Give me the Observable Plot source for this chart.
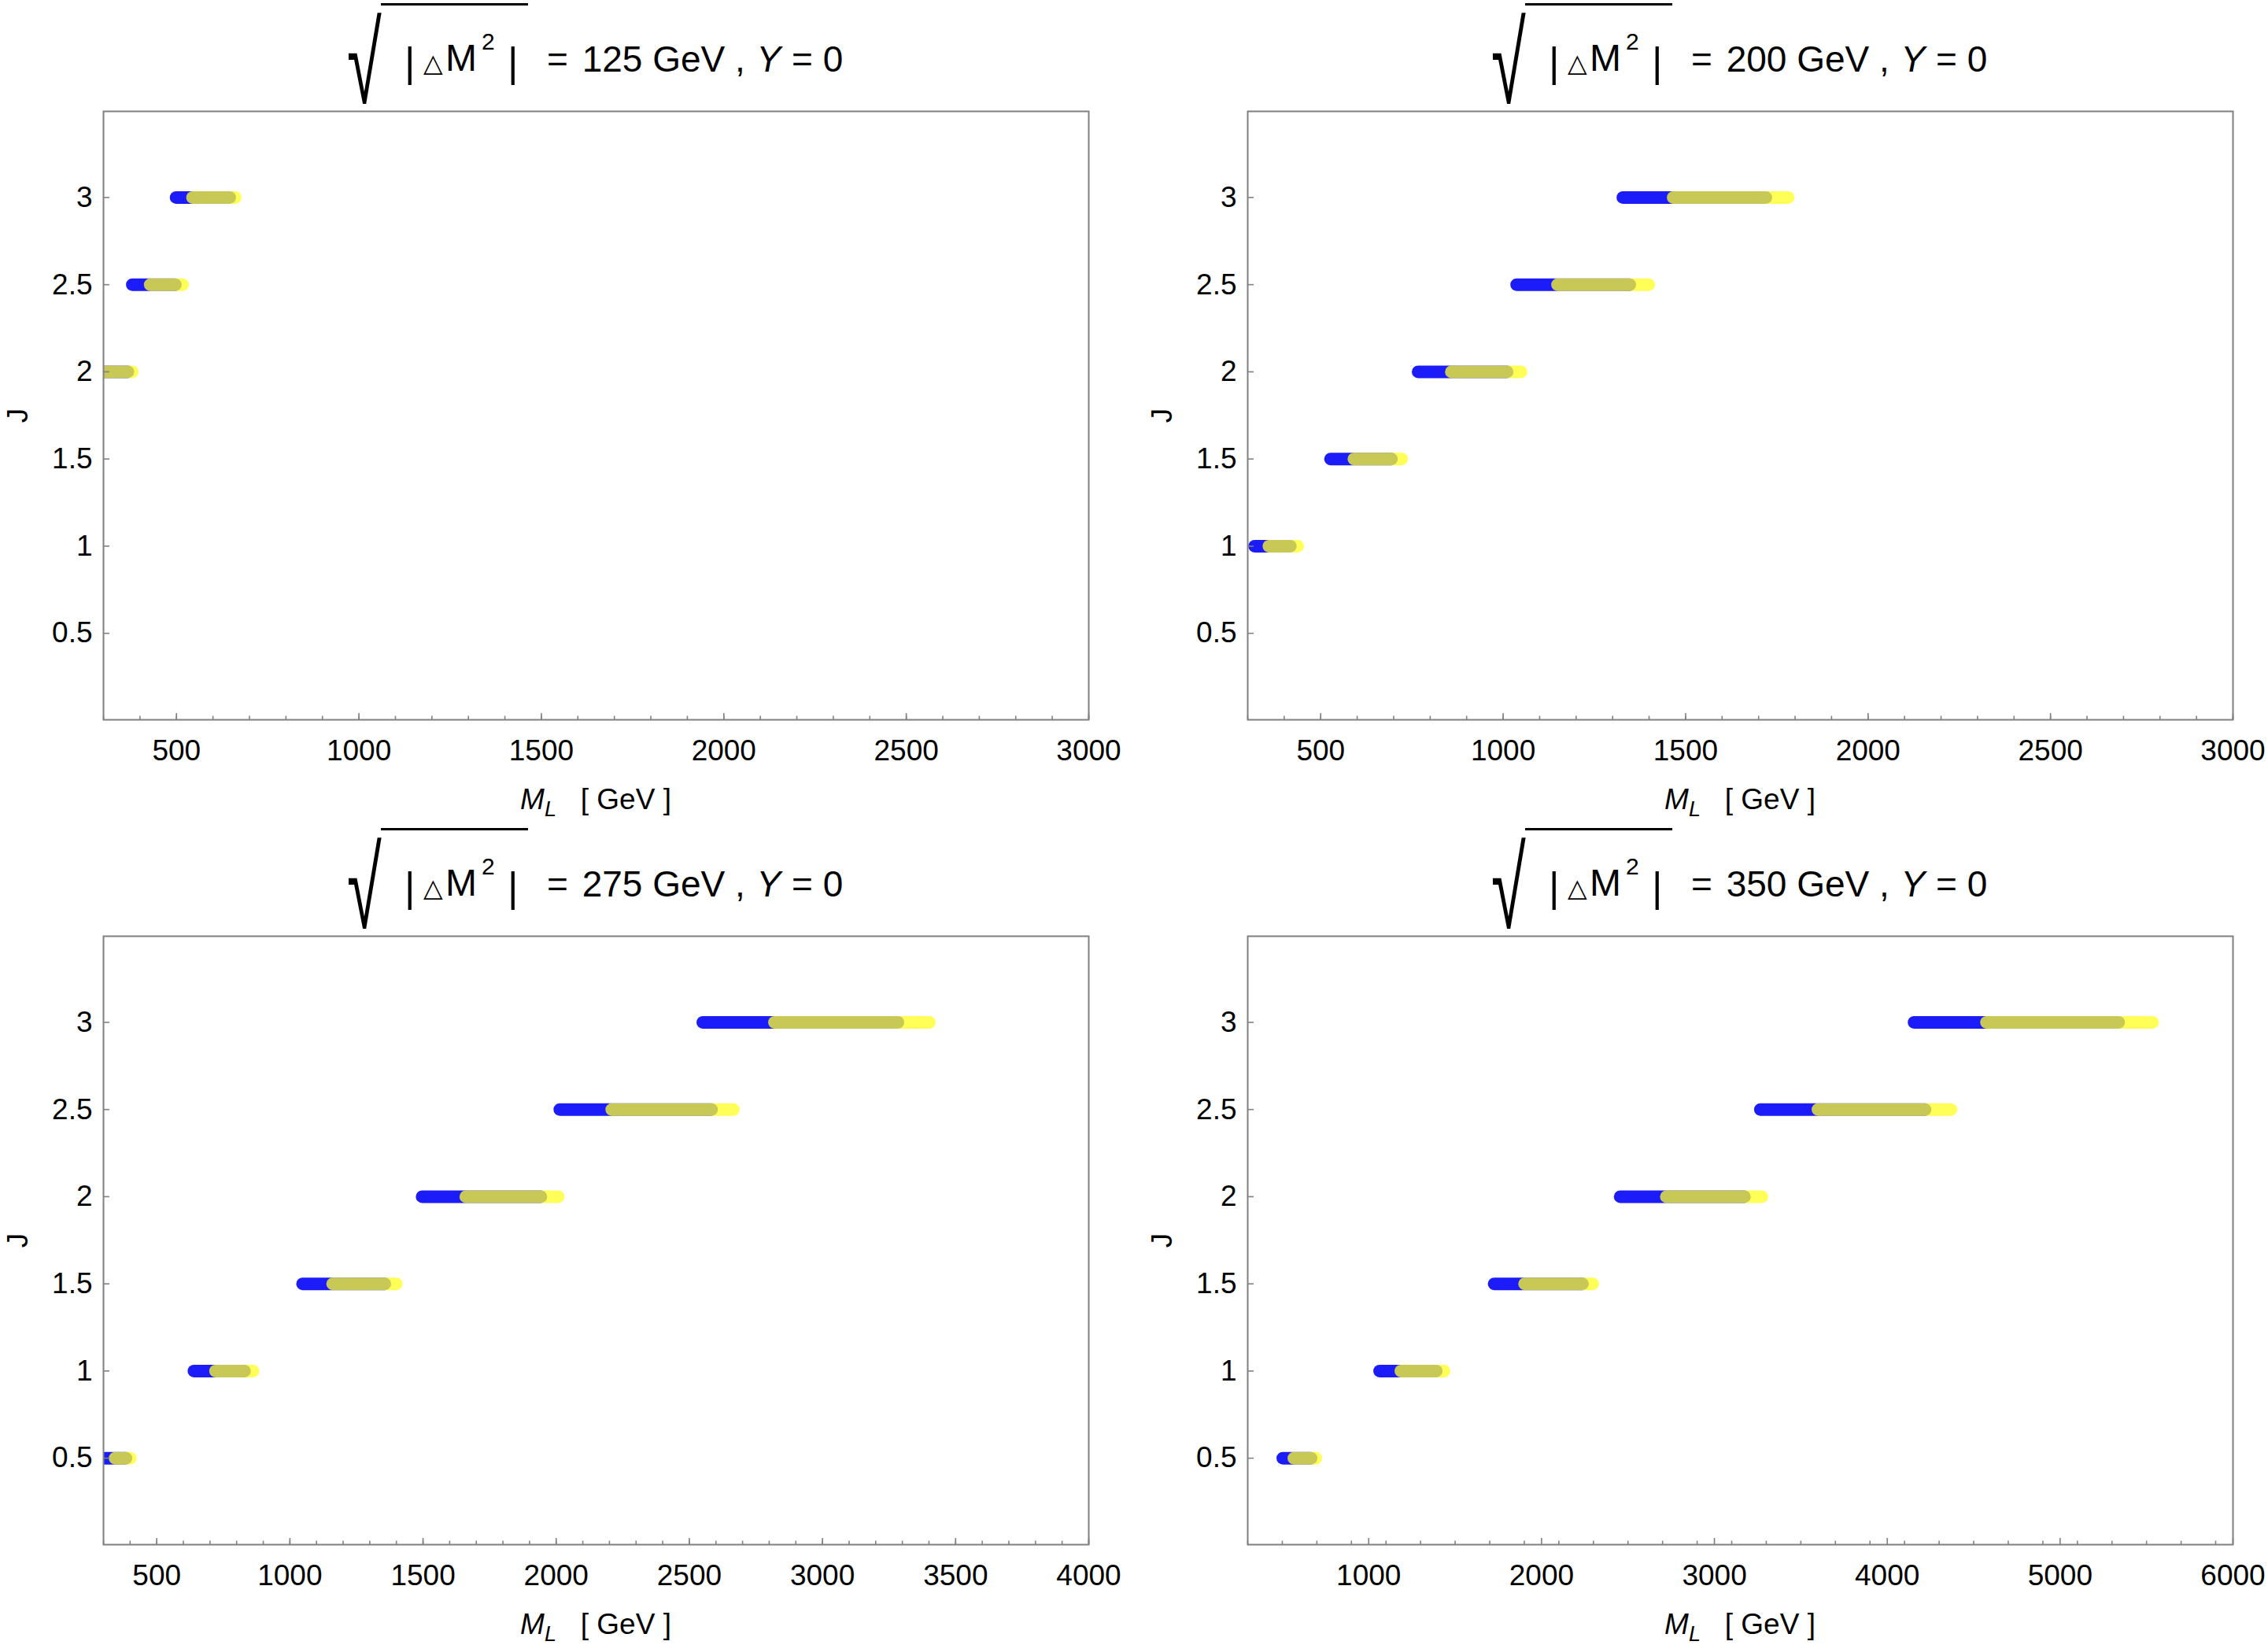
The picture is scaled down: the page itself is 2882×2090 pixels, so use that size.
<!DOCTYPE html>
<html><head><meta charset="utf-8">
<script src="https://cdn.jsdelivr.net/npm/d3@7"></script>
<script src="https://cdn.jsdelivr.net/npm/@observablehq/plot@0.6"></script>
<style>
html,body{margin:0;padding:0;background:#fff;}
#fig{position:relative;width:2882px;height:2090px;overflow:hidden;background:#fff;font-family:"Liberation Sans",Arial,sans-serif;color:#000;}
.abs{position:absolute;white-space:pre;line-height:1;}
svg{position:absolute;}
</style></head><body><div id="fig"></div>
<script>
// ---- data ----
const J_VALUES = [0.5, 1, 1.5, 2, 2.5, 3];
const deltaM = [125, 200, 275, 350];

const blueStart125  = [null, null, null, 285, 380, 500];
const blueEnd125    = [null, null, null, 368, 498, 647];
const yellowStart125= [null, null, null, 305, 429, 545];
const yellowEnd125  = [null, null, null, 380, 518, 662];

const blueStart200  = [null, 320, 528, 768, 1038, 1329];
const blueEnd200    = [null, 418, 695, 1012, 1348, 1721];
const yellowStart200= [null, 359, 592, 859, 1150, 1467];
const yellowEnd200  = [null, 438, 723, 1050, 1400, 1782];

const blueStart275  = [290, 641, 1049, 1498, 2015, 2552];
const blueEnd275    = [386, 831, 1358, 1944, 2585, 3285];
const yellowStart275= [345, 722, 1162, 1662, 2210, 2821];
const yellowEnd275  = [402, 863, 1401, 2009, 2667, 3403];

const blueStart350  = [505, 1065, 1728, 2457, 3268, 4157];
const blueEnd350    = [669, 1393, 2239, 3176, 4221, 5341];
const yellowStart350= [569, 1188, 1904, 2724, 3601, 4576];
const yellowEnd350  = [696, 1438, 2298, 3277, 4371, 5537];

const xTicks125 = [500, 1000, 1500, 2000, 2500, 3000];
const xTicks200 = [500, 1000, 1500, 2000, 2500, 3000];
const xTicks275 = [500, 1000, 1500, 2000, 2500, 3000, 3500, 4000];
const xTicks350 = [1000, 2000, 3000, 4000, 5000, 6000];
const yTicks = [0.5, 1, 1.5, 2, 2.5, 3];
const xDomains = [[300, 3000], [300, 3000], [300, 4000], [300, 6000]];
const minorSteps = [100, 100, 100, 200];

// ---- styling / layout ----
const BLUE = "rgb(28,28,250)";
const YELLOW = "#ffff22";
const GRAY = "#808080";
const FONT = "'Liberation Sans', Arial, sans-serif";
const FRAME_W = 1252, FRAME_H = 773;
const frameLeft = [131, 1585];
const frameTop = [141, 1189];
const fig = document.getElementById("fig");

function rows(js, a, b) {
  const out = [];
  js.forEach((j, i) => { if (a[i] != null && b[i] != null) out.push({J: j, x1: a[i], x2: b[i]}); });
  return out;
}

const panelData = [
  [blueStart125, blueEnd125, yellowStart125, yellowEnd125, xTicks125],
  [blueStart200, blueEnd200, yellowStart200, yellowEnd200, xTicks200],
  [blueStart275, blueEnd275, yellowStart275, yellowEnd275, xTicks275],
  [blueStart350, blueEnd350, yellowStart350, yellowEnd350, xTicks350]
];

function addText(html, left, top, style) {
  const d = document.createElement("div");
  d.className = "abs";
  d.innerHTML = html;
  d.style.left = left + "px";
  d.style.top = top + "px";
  Object.assign(d.style, style || {});
  fig.appendChild(d);
  return d;
}

panelData.forEach(([bs, be, ys, ye, ticks], p) => {
  const col = p % 2, row = Math.floor(p / 2);
  const fl = frameLeft[col], ft = frameTop[row];
  const svgLeft = col * 1441;
  const mL = fl - svgLeft, mR = 1441 - mL - FRAME_W;
  const mT = 10, mB = 60;
  const dom = xDomains[p];
  const minor = d3.range(dom[0], dom[1] + 1, minorSteps[p]);
  const chart = Plot.plot({
    width: 1441, height: mT + FRAME_H + mB,
    marginLeft: mL, marginRight: mR, marginTop: mT, marginBottom: mB,
    x: {domain: dom},
    y: {domain: [0.004, 3.494]},
    style: {fontFamily: FONT, fontSize: "37px", background: "transparent", overflow: "visible", color: "#000"},
    marks: [
      Plot.ruleY(rows(J_VALUES, bs, be), {y: "J", x1: "x1", x2: "x2", stroke: BLUE, strokeWidth: 16, strokeLinecap: "round", clip: true}),
      Plot.ruleY(rows(J_VALUES, ys, ye), {y: "J", x1: "x1", x2: "x2", stroke: YELLOW, strokeOpacity: 0.76, strokeWidth: 16, strokeLinecap: "round", clip: true}),
      Plot.frame({stroke: GRAY, strokeWidth: 2}),
      Plot.axisX({ticks: minor, tickSize: -4.5, tickFormat: () => "", stroke: GRAY, strokeWidth: 1.6, label: null}),
      Plot.axisX({ticks: ticks, tickSize: -8, tickFormat: () => "", stroke: GRAY, strokeWidth: 1.6, label: null}),
      Plot.axisX({ticks: ticks, tickSize: 0, tickPadding: 25, tickFormat: d => String(d), fontSize: 37, fill: "#000", label: null}),
      Plot.axisY({ticks: yTicks, tickSize: -8, tickFormat: () => "", stroke: GRAY, strokeWidth: 1.6, label: null}),
      Plot.axisY({ticks: yTicks, tickSize: 0, tickPadding: 14, tickFormat: d => String(d), fontSize: 37, fill: "#000", label: null})
    ]
  });
  chart.style.left = svgLeft + "px";
  chart.style.top = (ft - mT) + "px";
  fig.appendChild(chart);

  // title: sqrt(|ΔM²|) = … GeV , Y = 0
  const ox = col * 1454, oy = row * 1048;
  addText("\u221A", 441 + ox, 132 - 0.8465 * 145 + oy, {fontFamily: FONT, fontSize: "145px", transform: "scaleX(0.55)", transformOrigin: "0 0"});
  const bar = document.createElement("div");
  bar.style.cssText = `position:absolute;left:${484 + ox}px;top:${4 + oy}px;width:${187}px;height:3px;background:#000;`;
  fig.appendChild(bar);
  addText("|", 514 + ox, 53 + oy, {fontSize: "52px", fontFamily: FONT});
  addText("\u25B3", 538 + ox, 91 - 0.846 * 32 + oy, {fontSize: "32px", fontFamily: "'DejaVu Sans'"});
  addText("M", 566 + ox, 91 - 0.8465 * 48 + oy, {fontSize: "48px", fontFamily: FONT});
  addText("2", 612 + ox, 63.5 - 0.8465 * 30 + oy, {fontSize: "30px", fontFamily: FONT});
  addText("|", 645 + ox, 53 + oy, {fontSize: "52px", fontFamily: FONT});
  addText(`=<span style="margin-left:5px"> </span>${deltaM[p]} GeV , <i style="margin-left:2px">Y</i><span style="margin-left:1px"> = 0</span>`,
    695 + ox, 91 - 0.8465 * 46 + oy, {fontSize: "46px", fontFamily: FONT});

  // x label
  addText(`<i>M</i><span style="font-size:27px;font-style:italic;position:relative;top:9px">L</span>   [ GeV ]`,
    fl + FRAME_W / 2, ft + FRAME_H + 114 - 0.8465 * 37, {fontSize: "37px", fontFamily: FONT, transform: "translateX(-50%)"});
  // y label
  addText("J", 22 + col * 1454, ft + FRAME_H / 2, {fontSize: "37px", fontFamily: FONT, transform: "translate(-50%,-50%) rotate(-90deg)"});
});
</script></body></html>
